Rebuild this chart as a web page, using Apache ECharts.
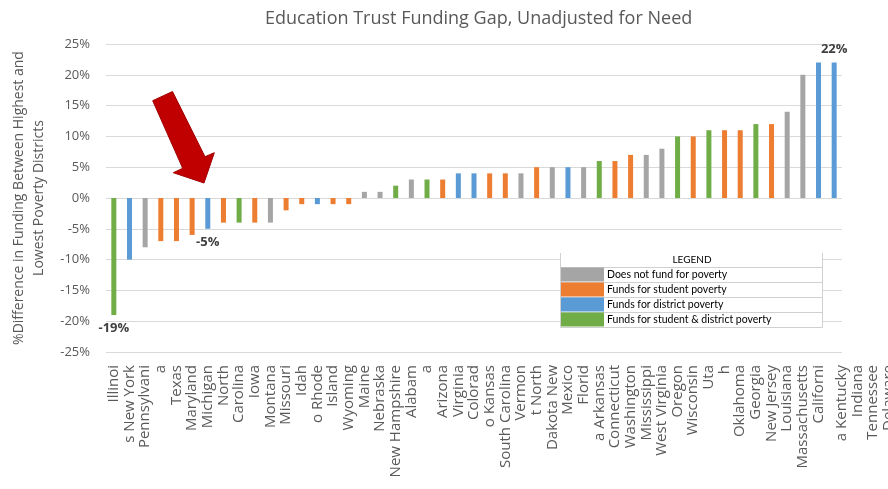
<!DOCTYPE html>
<html>
<head>
<meta charset="utf-8">
<script src="https://cdn.jsdelivr.net/npm/echarts@6/dist/echarts.min.js"></script>
<style>
  html, body { margin: 0; padding: 0; background: #fff; }
  #chart { width: 888px; height: 489px; }
</style>
</head>
<body>
<div id="chart"></div>
<script>
// Category label lines, one per bar (wrapped state names as they appear on the axis)
const categories = ['Illinoi', 's New York', 'Pennsylvani', 'a', 'Texas', 'Maryland', 'Michigan', 'North',
  'Carolina', 'Iowa', 'Montana', 'Missouri', 'Idah', 'o Rhode', 'Island', 'Wyoming', 'Maine', 'Nebraska',
  'New Hampshire', 'Alabam', 'a', 'Arizona', 'Virginia', 'Colorad', 'o Kansas', 'South Carolina', 'Vermon',
  't North', 'Dakota New', 'Mexico', 'Florid', 'a Arkansas', 'Connecticut', 'Washington', 'Mississippi',
  'West Virginia', 'Oregon', 'Wisconsin', 'Uta', 'h', 'Oklahoma', 'Georgia', 'New Jersey', 'Louisiana',
  'Massachusetts', 'Californi', 'a Kentucky'];
// Trailing label lines that run past the last bar
const overflowLines = ['Indiana', 'Tennessee', 'Delaware'];

// Funding gap in percent
const gapValues = [-19, -10, -8, -7, -7, -6, -5, -4, -4, -4, -4, -2, -1, -1, -1, -1, 1, 1,
  2, 3, 3, 3, 4, 4, 4, 4, 4, 5, 5, 5, 5, 6, 6, 7, 7, 8, 10, 10, 11, 11, 11, 12, 12, 14, 20, 22, 22];

// Funding type per bar: N = none, S = student, D = district, B = both
const fundingType = ['B', 'D', 'N', 'S', 'S', 'S', 'D', 'S', 'B', 'S', 'N', 'S', 'S', 'D', 'S', 'S', 'N', 'N',
  'B', 'N', 'B', 'S', 'D', 'D', 'S', 'S', 'N', 'S', 'N', 'D', 'N', 'B', 'S', 'S', 'N', 'N', 'B', 'S', 'B', 'S',
  'S', 'B', 'S', 'N', 'N', 'D', 'D'];

// Legend entries
const typeKeys = ['N', 'S', 'D', 'B'];
const typeNames = ['Does not fund for poverty', 'Funds for student poverty', 'Funds for district poverty',
  'Funds for student & district poverty'];
const typeColors = ['#a5a5a5', '#ed7d31', '#5b9bd5', '#70ad47'];

// Bars that carry a value label
const labeledBars = [0, 6, 46];

// Value axis ticks
const yMin = -25, yMax = 25, yStep = 5;

const chart = echarts.init(document.getElementById('chart'), null, { renderer: 'canvas' });

const xData = categories.map((c, i) => {
  if (i === categories.length - 1) {
    return { value: [c].concat(overflowLines).join('\n'), textStyle: { verticalAlign: 'top' } };
  }
  return c;
});

const series = typeKeys.map((key, k) => ({
  name: typeNames[k],
  type: 'bar',
  stack: 'gap',
  barWidth: 5,
  itemStyle: { color: typeColors[k] },
  data: gapValues.map((v, i) => {
    if (fundingType[i] !== key) return '-';
    if (labeledBars.indexOf(i) >= 0) {
      return {
        value: v,
        label: {
          show: true,
          position: v < 0 ? 'bottom' : 'top',
          distance: 7,
          formatter: p => p.value + '%',
          fontFamily: 'Open Sans',
          fontWeight: 'bold',
          fontSize: 13,
          color: '#404040'
        }
      };
    }
    return v;
  })
}));

// Legend table frame
const tbl = { x1: 560.5, x2: 822.5, top: 253, rows: [267, 282, 297, 312, 327] };
const tableGraphics = [
  { type: 'rect', z: 5, shape: { x: tbl.x1, y: tbl.top, width: tbl.x2 - tbl.x1, height: 327 - tbl.top },
    style: { fill: '#ffffff' } },
  { type: 'line', z: 6, shape: { x1: tbl.x1, y1: tbl.top, x2: tbl.x1, y2: 327.5 }, style: { stroke: '#d0d0d0', lineWidth: 1 } },
  { type: 'line', z: 6, shape: { x1: tbl.x2, y1: tbl.top, x2: tbl.x2, y2: 327.5 }, style: { stroke: '#d0d0d0', lineWidth: 1 } },
  { type: 'text', z: 6, style: { x: 692, y: 260, text: 'LEGEND', fill: '#000000', fontFamily: 'Lato', fontSize: 10,
    align: 'center', verticalAlign: 'middle' } }
].concat(tbl.rows.map(y => ({
  type: 'line', z: 6, shape: { x1: tbl.x1, y1: y + 0.5, x2: tbl.x2, y2: y + 0.5 },
  style: { stroke: '#d0d0d0', lineWidth: 1 }
})));

// Pointer arrow
const arrow = {
  type: 'polygon', z: 7,
  shape: { points: [[152.7, 100.7], [172.5, 91.5], [205, 156.7], [214.3, 152.7], [204, 183], [173.3, 172.7], [182.7, 168.3]] },
  style: { fill: '#c00000', stroke: '#a00000', lineWidth: 1 }
};

chart.setOption({
  animation: false,
  backgroundColor: '#ffffff',
  textStyle: { fontFamily: 'Open Sans' },
  title: {
    text: 'Education Trust Funding Gap, Unadjusted for Need',
    left: 260,
    top: 5,
    textStyle: { fontFamily: 'Open Sans', fontSize: 18, fontWeight: 'normal', color: '#595959' }
  },
  grid: { left: 106, right: 46, top: 44, bottom: 137, containLabel: false, outerBoundsMode: 'none' },
  legend: {
    orient: 'vertical',
    left: 561,
    top: 267.5,
    padding: 0,
    itemGap: 1,
    itemWidth: 43,
    itemHeight: 14,
    icon: 'rect',
    z: 10,
    selectedMode: false,
    data: typeNames,
    textStyle: { fontFamily: 'Lato', fontSize: 10.5, color: '#000000', padding: [0, 0, 0, -2] }
  },
  xAxis: {
    type: 'category',
    data: xData,
    axisLine: { show: false, onZero: false },
    axisTick: { show: false },
    splitLine: { show: false },
    axisLabel: {
      interval: 0,
      rotate: 90,
      margin: 13,
      fontFamily: 'Open Sans',
      fontSize: 15,
      lineHeight: 15.5,
      color: '#595959'
    }
  },
  yAxis: {
    type: 'value',
    min: yMin,
    max: yMax,
    interval: yStep,
    name: '%Difference in Funding Between Highest and\nLowest Poverty Districts',
    nameLocation: 'middle',
    nameGap: 51,
    nameTextStyle: { fontFamily: 'Open Sans', fontSize: 14, color: '#595959', lineHeight: 20 },
    axisLine: { show: false },
    axisTick: { show: false },
    axisLabel: { formatter: v => v + '%', fontFamily: 'Open Sans', fontSize: 13, color: '#595959', margin: 16 },
    splitLine: { lineStyle: { color: '#d9d9d9', width: 1 } }
  },
  graphic: tableGraphics.concat([arrow]),
  series: series
});
</script>
</body>
</html>
